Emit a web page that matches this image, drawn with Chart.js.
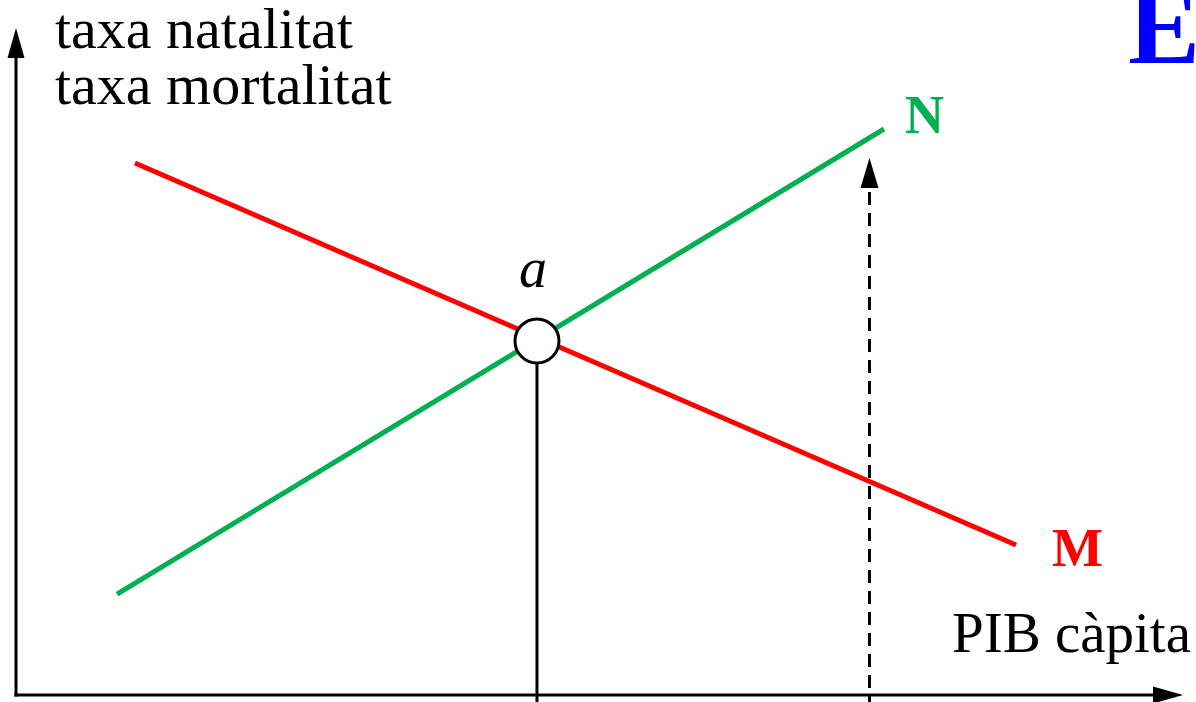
<!DOCTYPE html>
<html>
<head>
<meta charset="utf-8">
<script src="https://cdn.jsdelivr.net/npm/chart.js@4/dist/chart.umd.min.js"></script>
<style>
  html, body { margin: 0; padding: 0; background: #fff; }
  #wrap { width: 1196px; height: 702px; }
</style>
</head>
<body>
<div id="wrap"><canvas id="grafic"></canvas></div>
<script>
// corba N (taxa natalitat) i M (taxa mortalitat) segons el PIB càpita
const pibN = [8.56, 73.56];
const taxaN = [14.53, 81.44];
const pibM = [10.08, 84.75];
const taxaM = [76.55, 21.58];

// punt d'equilibri a
const pibA = [44.15];
const taxaA = [50.94];

// PIB de referència (fletxa discontínua) i fins on arriba
const pibE = [72.33];
const taxaE = [-2, 77.27];

// extrems dels eixos
const eixX = [0, 98.9];
const eixY = [-2, 95.97];

const textos = {
  eixY: ['taxa natalitat', 'taxa mortalitat'],
  eixX: 'PIB càpita',
  N: 'N',
  M: 'M',
  a: 'a',
  panell: 'E'
};

const verd = 'rgb(0, 176, 80)';
const vermell = 'rgb(255, 0, 0)';

const toPts = (xs, ys) => xs.map((x, i) => ({ x: x, y: ys[i] }));

function fletxa(ctx, x, y, dir, llarg, ample) {
  // dir: 'up' o 'right'
  ctx.save();
  ctx.fillStyle = '#000';
  ctx.beginPath();
  if (dir === 'up') {
    ctx.moveTo(x, y);
    ctx.lineTo(x - ample / 2, y + llarg);
    ctx.lineTo(x + ample / 2, y + llarg);
  } else {
    ctx.moveTo(x, y);
    ctx.lineTo(x - llarg, y - ample / 2);
    ctx.lineTo(x - llarg, y + ample / 2);
  }
  ctx.closePath();
  ctx.fill();
  ctx.restore();
}

const dibuix = {
  id: 'dibuix',
  beforeDatasetsDraw(chart) {
    const ctx = chart.ctx;
    const sx = chart.scales.x, sy = chart.scales.y;
    const x0 = sx.getPixelForValue(0), y0 = sy.getPixelForValue(0);
    ctx.save();
    ctx.strokeStyle = '#000';
    ctx.lineWidth = 3;
    // eix vertical
    const yTop = sy.getPixelForValue(eixY[1]);
    ctx.beginPath();
    ctx.moveTo(x0, y0 + 1.5);
    ctx.lineTo(x0, yTop + 20);
    ctx.stroke();
    fletxa(ctx, x0, yTop, 'up', 30, 17);
    // eix horitzontal
    const xRight = sx.getPixelForValue(eixX[1]);
    ctx.beginPath();
    ctx.moveTo(x0 - 1.5, y0);
    ctx.lineTo(xRight - 20, y0);
    ctx.stroke();
    fletxa(ctx, xRight, y0, 'right', 30, 17);
    // fletxa discontínua
    const xe = sx.getPixelForValue(pibE[0]);
    const ye = sy.getPixelForValue(taxaE[1]);
    fletxa(ctx, xe, ye, 'up', 30, 18);
    ctx.restore();
  },
  afterDatasetsDraw(chart) {
    const ctx = chart.ctx;
    const sx = chart.scales.x, sy = chart.scales.y;
    ctx.save();
    ctx.textBaseline = 'alphabetic';
    ctx.textAlign = 'left';
    ctx.fillStyle = '#000';
    ctx.font = '58px "Liberation Serif", serif';
    ctx.fillText(textos.eixY[0], 55, 48);
    ctx.fillText(textos.eixY[1], 55, 104);
    ctx.font = '57px "Liberation Serif", serif';
    ctx.textAlign = 'right';
    ctx.fillText(textos.eixX, 1191, 652);

    ctx.font = 'italic 56px "Liberation Serif", serif';
    ctx.textAlign = 'center';
    ctx.fillText(textos.a, sx.getPixelForValue(pibA[0]) - 4, sy.getPixelForValue(taxaA[0]) - 54);

    ctx.font = 'bold 54px "Liberation Serif", serif';
    ctx.textAlign = 'left';
    ctx.fillStyle = verd;
    ctx.fillText(textos.N, sx.getPixelForValue(pibN[1]) + 21, sy.getPixelForValue(taxaN[1]) + 4);
    ctx.fillStyle = vermell;
    ctx.fillText(textos.M, sx.getPixelForValue(pibM[1]) + 36, sy.getPixelForValue(taxaM[1]) + 21);

    ctx.font = 'bold 108px "Liberation Serif", serif';
    ctx.fillStyle = 'rgb(0, 0, 255)';
    ctx.fillText(textos.panell, 1128, 63);
    ctx.restore();
  }
};

const ctx = document.getElementById('grafic').getContext('2d');
new Chart(ctx, {
  type: 'scatter',
  data: {
    datasets: [
      {
        label: 'a',
        data: toPts(pibA, taxaA),
        pointRadius: 22,
        pointHoverRadius: 22,
        pointBackgroundColor: '#fff',
        pointBorderColor: '#000',
        pointBorderWidth: 3
      },
      {
        label: 'N',
        data: toPts(pibN, taxaN),
        showLine: true,
        borderColor: verd,
        borderWidth: 5,
        pointRadius: 0
      },
      {
        label: 'M',
        data: toPts(pibM, taxaM),
        showLine: true,
        borderColor: vermell,
        borderWidth: 5,
        pointRadius: 0
      },
      {
        label: 'PIB a',
        data: toPts([pibA[0], pibA[0]], [-2, taxaA[0]]),
        showLine: true,
        borderColor: '#000',
        borderWidth: 3,
        pointRadius: 0
      },
      {
        label: 'PIB E',
        data: toPts([pibE[0], pibE[0]], [taxaE[0], taxaE[1] - 4.3]),
        showLine: true,
        borderColor: '#000',
        borderWidth: 3,
        borderDash: [13, 8],
        pointRadius: 0
      }
    ]
  },
  options: {
    responsive: true,
    maintainAspectRatio: false,
    animation: false,
    layout: { padding: 0, autoPadding: false },
    plugins: {
      legend: { display: false },
      tooltip: { enabled: false }
    },
    scales: {
      x: { type: 'linear', display: false, min: -1.356, max: 100 },
      y: { type: 'linear', display: false, min: -1.007, max: 100 }
    }
  },
  plugins: [dibuix]
});
</script>
</body>
</html>
